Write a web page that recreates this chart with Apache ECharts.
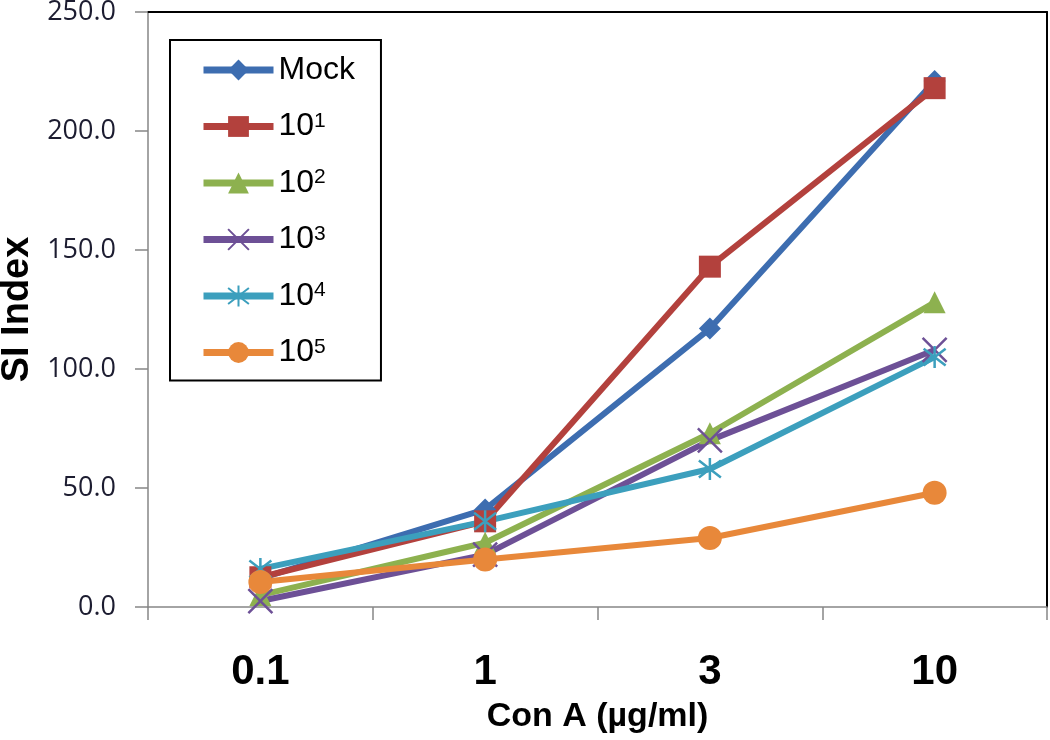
<!DOCTYPE html>
<html>
<head>
<meta charset="utf-8">
<script src="https://cdn.jsdelivr.net/npm/echarts@6/dist/echarts.min.js"></script>
<style>
  html, body { margin: 0; padding: 0; background: #fff; }
  #chart { width: 1050px; height: 740px; }
</style>
</head>
<body>
<div id="chart"></div>
<script>
// ---- data ----
var categories = ['0.1', '1', '3', '10'];
var seriesNames = ['Mock', '10^1', '10^2', '10^3', '10^4', '10^5'];
var mock  = [12, 41, 117, 221];
var d1e1  = [12.5, 36, 143, 218];
var d1e2  = [5, 27, 73, 128];
var d1e3  = [2.5, 22, 70, 108];
var d1e4  = [16, 36, 58, 105];
var d1e5  = [10.5, 20, 29, 48];
var yTicks = [0, 50, 100, 150, 200, 250];

var colors = ['#3D6DB0', '#B3413D', '#8DB14F', '#6D5096', '#3C9FBD', '#E8883A'];
var symbols = [
  'diamond',
  'rect',
  'triangle',
  'path://M0,0L10,10M10,0L0,10',
  'path://M0,0L10,10M10,0L0,10M5,-1.5L5,11.5',
  'circle'
];
var symbolSizes = [22, 22, 22, 24, 22, 24];
var allData = [mock, d1e1, d1e2, d1e3, d1e4, d1e5];

var series = seriesNames.map(function (n, i) {
  var isStroke = (i === 3 || i === 4);
  return {
    name: n,
    type: 'line',
    data: allData[i],
    symbol: symbols[i],
    symbolSize: symbolSizes[i],
    showAllSymbol: true,
    lineStyle: { color: colors[i], width: 6 },
    itemStyle: {
      color: colors[i],
      borderColor: colors[i],
      borderWidth: isStroke ? 2.5 : 0
    },
    emphasis: { disabled: true },
    animation: false
  };
});

var chart = echarts.init(document.getElementById('chart'), null, { renderer: 'canvas' });
chart.setOption({
  backgroundColor: '#ffffff',
  animation: false,
  color: colors,
  grid: { left: 148, right: 3, top: 12, bottom: 133, containLabel: false, outerBoundsMode: 'none' },
  legend: {
    orient: 'vertical',
    left: 170,
    top: 40,
    padding: [14, 26, 12, 30],
    itemGap: 24.5,
    itemWidth: 70,
    itemHeight: 26,
    borderColor: '#000',
    borderWidth: 2,
    backgroundColor: '#fff',
    data: seriesNames,
    lineStyle: { width: 7 },
    formatter: function (name) {
      if (name.indexOf('^') > 0) {
        var p = name.split('^');
        return '{b|' + p[0] + '}{s|' + p[1] + '}';
      }
      return '{b|' + name + '}';
    },
    textStyle: {
      fontFamily: 'Liberation Sans, Arial, sans-serif',
      fontSize: 32,
      color: '#000',
      lineHeight: 32,
      rich: {
        b: { fontFamily: 'Liberation Sans, Arial, sans-serif', fontSize: 32, lineHeight: 32, color: '#000' },
        s: { fontFamily: 'Liberation Sans, Arial, sans-serif', fontSize: 21, lineHeight: 32, verticalAlign: 'top', color: '#000', padding: [0, 0, 10, 0] }
      }
    }
  },
  xAxis: [{
    type: 'category',
    data: categories,
    boundaryGap: true,
    position: 'bottom',
    axisLine: { show: true, onZero: false, lineStyle: { color: '#868686', width: 1.5 } },
    axisTick: { show: true, length: 13, inside: false, lineStyle: { color: '#868686', width: 1.5 } },
    axisLabel: {
      margin: 44,
      fontFamily: 'Liberation Sans, Arial, sans-serif',
      fontWeight: 'bold',
      fontSize: 42,
      color: '#000'
    },
    splitLine: { show: false },
    name: 'Con A (\u00b5g/ml)',
    nameLocation: 'middle',
    nameGap: 93,
    nameTextStyle: {
      fontFamily: 'Liberation Sans, Arial, sans-serif',
      fontWeight: 'bold',
      fontSize: 34,
      color: '#000'
    }
  }, {
    type: 'category',
    data: categories,
    position: 'top',
    axisLine: { show: true, onZero: false, lineStyle: { color: '#000', width: 2 } },
    axisTick: { show: false },
    axisLabel: { show: false },
    splitLine: { show: false }
  }],
  yAxis: [{
    type: 'value',
    min: 0,
    max: 250,
    interval: 50,
    axisLine: { show: true, onZero: false, lineStyle: { color: '#868686', width: 1.5 } },
    axisTick: { show: true, length: 13, inside: false, lineStyle: { color: '#868686', width: 1.5 } },
    axisLabel: {
      margin: 32,
      fontFamily: 'Open Sans, DejaVu Sans, sans-serif',
      fontSize: 27,
      color: '#1c1c30',
      formatter: function (v) { return v.toFixed(1); }
    },
    splitLine: { show: false },
    name: 'SI Index',
    nameLocation: 'middle',
    nameRotate: 90,
    nameGap: 105,
    nameTextStyle: {
      fontFamily: 'Liberation Sans, Arial, sans-serif',
      fontWeight: 'bold',
      fontSize: 38,
      color: '#000'
    }
  }, {
    type: 'value',
    min: 0,
    max: 250,
    interval: 50,
    position: 'right',
    axisLine: { show: true, onZero: false, lineStyle: { color: '#000', width: 2 } },
    axisTick: { show: false },
    axisLabel: { show: false },
    splitLine: { show: false }
  }],
  series: series
});
</script>
</body>
</html>
